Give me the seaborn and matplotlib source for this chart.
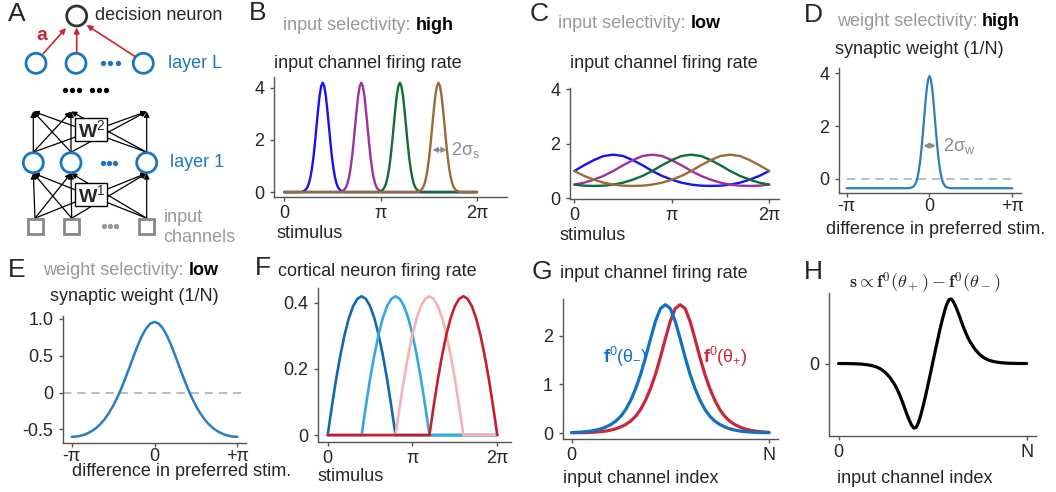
import numpy as np
import matplotlib
matplotlib.use('Agg')
import matplotlib.pyplot as plt
import matplotlib.patches as mpatches
import seaborn as sns

PI = np.pi

# ---------------------------------------------------------------
# data
# ---------------------------------------------------------------

# B: high input selectivity, 4 narrow tuning curves
b_pref = [0.4 * PI, 0.8 * PI, 1.2 * PI, 1.6 * PI]
b_offset = [-0.70, -0.65, -0.60, -0.55, -0.50, -0.45, -0.40, -0.35, -0.30, -0.25,
            -0.20, -0.15, -0.10, -0.05, 0.00, 0.05, 0.10, 0.15, 0.20, 0.25,
            0.30, 0.35, 0.40, 0.45, 0.50, 0.55, 0.60, 0.65, 0.70]
b_rate = [0.0, 0.02, 0.05, 0.10, 0.18, 0.33, 0.57, 0.91, 1.36, 1.92, 2.55, 3.17, 3.71, 4.07,
          4.20, 4.07, 3.71, 3.17, 2.55, 1.92, 1.36, 0.91, 0.57, 0.33, 0.18, 0.10, 0.05, 0.02, 0.0]

# C: low input selectivity, stimulus grid in units of pi
c_stim = [0.0, 0.1, 0.2, 0.3, 0.4, 0.5, 0.6, 0.7, 0.8, 0.9, 1.0,
          1.1, 1.2, 1.3, 1.4, 1.5, 1.6, 1.7, 1.8, 1.9, 2.0]
c_blue = [1.00, 1.21, 1.40, 1.55, 1.60, 1.55, 1.40, 1.21, 1.00, 0.82, 0.68,
          0.57, 0.50, 0.46, 0.45, 0.46, 0.50, 0.57, 0.68, 0.82, 1.00]
c_purple = [0.50, 0.57, 0.68, 0.82, 1.00, 1.21, 1.40, 1.55, 1.60, 1.55, 1.40,
            1.21, 1.00, 0.82, 0.68, 0.57, 0.50, 0.46, 0.45, 0.46, 0.50]
c_green = [0.50, 0.46, 0.45, 0.46, 0.50, 0.57, 0.68, 0.82, 1.00, 1.21, 1.40,
           1.55, 1.60, 1.55, 1.40, 1.21, 1.00, 0.82, 0.68, 0.57, 0.50]
c_brown = [1.00, 0.82, 0.68, 0.57, 0.50, 0.46, 0.45, 0.46, 0.50, 0.57, 0.68,
           0.82, 1.00, 1.21, 1.40, 1.55, 1.60, 1.55, 1.40, 1.21, 1.00]

# D: high weight selectivity
d_diff = [-0.80, -0.75, -0.70, -0.65, -0.60, -0.55, -0.50, -0.45, -0.40, -0.35, -0.30,
          -0.25, -0.20, -0.15, -0.10, -0.05, 0.00, 0.05, 0.10, 0.15, 0.20, 0.25,
          0.30, 0.35, 0.40, 0.45, 0.50, 0.55, 0.60, 0.65, 0.70, 0.75, 0.80]
d_weight = [-0.35, -0.34, -0.33, -0.31, -0.28, -0.21, -0.10, 0.08, 0.34, 0.71, 1.18,
            1.74, 2.35, 2.94, 3.45, 3.78, 3.90, 3.78, 3.45, 2.94, 2.35, 1.74,
            1.18, 0.71, 0.34, 0.08, -0.10, -0.21, -0.28, -0.31, -0.33, -0.34, -0.35]
d_base = -0.35

# E: low weight selectivity, difference grid in units of pi
e_diff = [-1.00, -0.95, -0.90, -0.85, -0.80, -0.75, -0.70, -0.65, -0.60, -0.55, -0.50,
          -0.45, -0.40, -0.35, -0.30, -0.25, -0.20, -0.15, -0.10, -0.05, 0.00,
          0.05, 0.10, 0.15, 0.20, 0.25, 0.30, 0.35, 0.40, 0.45, 0.50,
          0.55, 0.60, 0.65, 0.70, 0.75, 0.80, 0.85, 0.90, 0.95, 1.00]
e_weight = [-0.600, -0.597, -0.588, -0.572, -0.548, -0.517, -0.476, -0.423, -0.357, -0.276, -0.180,
            -0.068, 0.060, 0.201, 0.350, 0.502, 0.646, 0.774, 0.873, 0.938, 0.960,
            0.938, 0.873, 0.774, 0.646, 0.502, 0.350, 0.201, 0.060, -0.068, -0.180,
            -0.276, -0.357, -0.423, -0.476, -0.517, -0.548, -0.572, -0.588, -0.597, -0.600]

# F: cortical neuron tuning (bump onsets, offsets within bump in units of pi)
f_start = [0.0, 0.4, 0.8, 1.2]
f_offset = [0.00, 0.05, 0.10, 0.15, 0.20, 0.25, 0.30, 0.35, 0.40,
            0.45, 0.50, 0.55, 0.60, 0.65, 0.70, 0.75, 0.80]
f_rate = [0.0, 0.088, 0.170, 0.242, 0.304, 0.354, 0.390, 0.412, 0.420,
          0.412, 0.390, 0.354, 0.304, 0.242, 0.170, 0.088, 0.0]

# G: population response to two stimuli (channel index / N)
g_index = [0.000, 0.025, 0.050, 0.075, 0.100, 0.125, 0.150, 0.175, 0.200, 0.225,
           0.250, 0.275, 0.300, 0.325, 0.350, 0.375, 0.400, 0.425, 0.450, 0.475,
           0.500, 0.525, 0.550, 0.575, 0.600, 0.625, 0.650, 0.675, 0.700, 0.725,
           0.750, 0.775, 0.800, 0.825, 0.850, 0.875, 0.900, 0.925, 0.950, 0.975, 1.000]
g_minus = [0.013, 0.017, 0.023, 0.032, 0.045, 0.065, 0.09, 0.13, 0.18, 0.25,
           0.35, 0.49, 0.68, 0.92, 1.21, 1.56, 1.94, 2.30, 2.56, 2.64,
           2.56, 2.30, 1.94, 1.56, 1.21, 0.92, 0.68, 0.49, 0.35, 0.25,
           0.18, 0.13, 0.09, 0.065, 0.045, 0.032, 0.023, 0.017, 0.013, 0.011, 0.010]
g_plus = [0.010, 0.010, 0.011, 0.013, 0.017, 0.023, 0.032, 0.045, 0.065, 0.09,
          0.13, 0.18, 0.25, 0.35, 0.49, 0.68, 0.92, 1.21, 1.56, 1.94,
          2.30, 2.56, 2.64, 2.56, 2.30, 1.94, 1.56, 1.21, 0.92, 0.68,
          0.49, 0.35, 0.25, 0.18, 0.13, 0.09, 0.065, 0.045, 0.032, 0.023, 0.017]

# H: discrimination signal (arbitrary units)
h_index = [0.0, 0.05, 0.1, 0.125, 0.15, 0.175, 0.2, 0.225, 0.25, 0.275,
           0.3, 0.3125, 0.325, 0.3375, 0.35, 0.3625, 0.375, 0.3875, 0.4, 0.4125,
           0.425, 0.4375, 0.45, 0.4625, 0.475, 0.4875, 0.5, 0.5125, 0.525, 0.5375,
           0.55, 0.5625, 0.575, 0.5875, 0.6, 0.6125, 0.625, 0.6375, 0.65, 0.6625,
           0.675, 0.6875, 0.7, 0.725, 0.75, 0.775, 0.8, 0.825, 0.85, 0.875,
           0.9, 0.95, 1.0]
h_signal = [0.0, -0.001, -0.005, -0.01, -0.018, -0.03, -0.05, -0.085, -0.14, -0.22,
            -0.33, -0.40, -0.48, -0.57, -0.67, -0.77, -0.86, -0.94, -0.99, -0.98,
            -0.905, -0.79, -0.65, -0.50, -0.335, -0.17, 0.0, 0.17, 0.335, 0.50,
            0.65, 0.79, 0.905, 0.98, 0.99, 0.94, 0.86, 0.77, 0.67, 0.57,
            0.48, 0.40, 0.33, 0.22, 0.14, 0.085, 0.05, 0.03, 0.018, 0.01,
            0.005, 0.001, 0.0]

# ---------------------------------------------------------------
sns.set_theme(style='ticks')
plt.rcParams['font.family'] = ['Liberation Sans', 'DejaVu Sans']
plt.rcParams['mathtext.fontset'] = 'custom'
plt.rcParams['mathtext.rm'] = 'Liberation Sans'
plt.rcParams['mathtext.it'] = 'Liberation Sans:italic'
plt.rcParams['mathtext.bf'] = 'Liberation Sans:bold'
plt.rcParams['font.size'] = 13
plt.rcParams['axes.linewidth'] = 1.0
plt.rcParams['axes.edgecolor'] = '#555555'

W, H = 1056, 492
FS = 13
GRAY = '#999999'
ANNO = '#8c8c8c'

fig = plt.figure(figsize=(W / 100, H / 100), dpi=100)
fig.patch.set_facecolor('white')

# full-figure overlay in pixel coordinates for the schematic and free text
bg = fig.add_axes([0, 0, 1, 1])
bg.set_xlim(0, W)
bg.set_ylim(H, 0)
bg.axis('off')
bg.set_facecolor('none')


def px_axes(x0, y0, x1, y1, xpad=3):
    ax = fig.add_axes([x0 / W, 1 - y1 / H, (x1 - x0) / W, (y1 - y0) / H])
    ax.set_facecolor('none')
    sns.despine(ax=ax)
    ax.tick_params(axis='both', length=3, width=1, color='#555555', labelsize=FS)
    ax.tick_params(axis='y', pad=4)
    ax.tick_params(axis='x', pad=xpad)
    ax.grid(False)
    return ax


def txt(x, y, s, **kw):
    kw.setdefault('fontsize', FS)
    kw.setdefault('va', 'center')
    kw.setdefault('ha', 'left')
    return bg.text(x, y, s, **kw)


def header(x, y, light, strong):
    t = txt(x, y, light, color=GRAY)
    bg.annotate(strong, xy=(1, 0), xycoords=t, xytext=(3.6, 0), textcoords='offset points',
                ha='left', va='bottom', fontsize=FS, fontweight='bold', color='black')


def curve(ax, xs, ys, color, lw):
    sns.lineplot(x=xs, y=ys, ax=ax, color=color, lw=lw, estimator=None, sort=False)


# ---------------- panel letters -----------------
for letter, (lx, ly) in {'A': (17, 14), 'B': (258, 12.5), 'C': (539, 14), 'D': (813, 15),
                         'E': (17, 270), 'F': (263, 268), 'G': (542, 272), 'H': (813, 272)}.items():
    txt(lx, ly, letter, fontsize=19, ha='center')

# ---------------- panel A: network schematic -----------------
blue_a = '#1a76c2'
red_a = '#c8282f'
layerL = [36, 76, 143.3]
layer1 = [33.3, 71, 146.7]
inputs = [35, 71.7, 146.7]
yL, y1, yin, ytop = 63.3, 162.7, 226, 111.5

bg.add_patch(mpatches.Circle((76.7, 16), 10, fill=False, ec='#333333', lw=2, zorder=3))
txt(95, 16, 'decision neuron')
for x in layerL:
    bg.add_patch(mpatches.Circle((x, yL), 10, fill=False, ec=blue_a, lw=2, zorder=3))
for x in layer1:
    bg.add_patch(mpatches.Circle((x, y1), 10, fill=False, ec=blue_a, lw=2, zorder=3))
for x in inputs:
    bg.add_patch(mpatches.Rectangle((x - 7.5, yin - 7.5), 15, 15, fill=False, ec='#888888',
                                    lw=2, zorder=3))

arrow_kw = dict(arrowstyle='-|>', color='black', lw=0.9, mutation_scale=8, shrinkA=0, shrinkB=0)
for xs in layer1:
    for xt in layer1:
        bg.annotate('', xy=(xt, ytop), xytext=(xs, y1 - 10.5), arrowprops=arrow_kw, zorder=1)
for xs in inputs:
    for xt in layer1:
        bg.annotate('', xy=(xt, y1 + 10.5), xytext=(xs, yin - 7.8), arrowprops=arrow_kw, zorder=1)

red_kw = dict(arrowstyle='-|>', color=red_a, lw=1.2, mutation_scale=8, shrinkA=0, shrinkB=0)
bg.annotate('', xy=(66, 28), xytext=(43.3, 53.5), arrowprops=red_kw)
bg.annotate('', xy=(76.7, 27.5), xytext=(76.7, 52.8), arrowprops=red_kw)
bg.annotate('', xy=(86.5, 25), xytext=(135, 56.5), arrowprops=red_kw)
txt(41.5, 35, 'a', color=red_a, fontweight='bold', ha='center', fontsize=14)

for (bx, by), sup in [((75, 118.3), '2'), ((75, 182.7), '1')]:
    bg.add_patch(mpatches.Rectangle((bx, by), 32.3, 23, fc='white', ec='black', lw=1, zorder=4))
    txt(bx + 16.5, by + 12, r'$\mathbf{W}^{' + sup + '}$', ha='center', fontsize=14, zorder=5)

bg.plot([102.5, 110, 117.5], [yL, yL, yL], 'o', ms=2.8, color=blue_a)
bg.plot([103, 109, 115], [y1, y1, y1], 'o', ms=2.8, color=blue_a)
bg.plot([104, 110, 116], [yin, yin, yin], 'o', ms=2.8, color='#999999')
bg.plot([65, 72, 79, 92, 99, 106], [90] * 6, 'o', ms=2.8, color='black')
txt(168.3, yL, 'layer L', color=blue_a)
txt(170, y1, 'layer 1', color=blue_a)
txt(163.3, 218, 'input', color='#999999')
txt(163.3, 238, 'channels', color='#999999')

# ---------------- panel B -----------------
b_colors = ['#1414f0', '#9c339c', '#0d6e36', '#9b6a37']
axB = px_axes(274, 77, 507, 197)
for pref, col in zip(b_pref, b_colors):
    xs = [0.0] + [pref + o for o in b_offset] + [2 * PI]
    ys = [0.0] + b_rate + [0.0]
    curve(axB, xs, ys, col, 1.7)
axB.set_xlim(-0.33, 7.26)
axB.set_ylim(-0.19, 4.42)
axB.set_xticks([0, PI, 2 * PI], ['0', 'π', '2π'])
axB.set_yticks([0, 2, 4], ['0', '2', '4'])
axB.annotate('', xy=(5.30, 1.62), xytext=(4.83, 1.62),
             arrowprops=dict(arrowstyle='<->', color=ANNO, lw=1.3, mutation_scale=7,
                             shrinkA=0, shrinkB=0))
axB.text(5.44, 1.62, r'2σ$_{\mathrm{s}}$', color=ANNO, fontsize=FS, va='center')
header(283.3, 25, 'input selectivity:', 'high')
txt(274, 63.3, 'input channel firing rate')
txt(276.7, 233.3, 'stimulus')

# ---------------- panel C -----------------
axC = px_axes(570, 88, 779, 199)
for ys, col in zip([c_blue, c_purple, c_green, c_brown], b_colors):
    curve(axC, [s * PI for s in c_stim], ys, col, 1.7)
axC.set_xlim(-0.14, 6.6)
axC.set_ylim(-0.03, 4.05)
axC.set_xticks([0, PI, 2 * PI], ['0', 'π', '2π'])
axC.set_yticks([0, 2, 4], ['0', '2', '4'])
header(558.3, 23.3, 'input selectivity:', 'low')
txt(570, 63.3, 'input channel firing rate')
txt(560, 235, 'stimulus')

# ---------------- panel D -----------------
w_blue = '#2a7dc0'
axD = px_axes(839.3, 68.3, 1021, 192.7, xpad=1)
axD.hlines(0, -PI, PI, colors='#b0b0b0', linestyles=(0, (5, 3.5)), lw=1.2)
curve(axD, [-PI] + d_diff + [PI], [d_base] + d_weight + [d_base], w_blue, 1.6)
axD.set_xlim(-3.42, 3.47)
axD.set_ylim(-0.52, 4.19)
axD.set_xticks([-PI, 0, PI], ['-π', '0', '+π'])
axD.set_yticks([0, 2, 4], ['0', '2', '4'])
axD.annotate('', xy=(0.24, 1.26), xytext=(-0.23, 1.26),
             arrowprops=dict(arrowstyle='<->', color=ANNO, lw=1.3, mutation_scale=7,
                             shrinkA=0, shrinkB=0))
axD.text(0.50, 1.26, r'2σ$_{\mathrm{w}}$', color=ANNO, fontsize=FS, va='center')
header(836.7, 21.7, 'weight selectivity:', 'high')
txt(835, 50, 'synaptic weight (1/N)')
txt(826, 229, 'difference in preferred stim.')

# ---------------- panel E -----------------
axE = px_axes(63.3, 316, 246, 442.7, xpad=1)
axE.axhline(0, color='#b0b0b0', ls=(0, (5, 3.5)), lw=1.2)
curve(axE, [d * PI for d in e_diff], e_weight, w_blue, 1.8)
axE.set_xlim(-3.46, 3.47)
axE.set_ylim(-0.68, 1.04)
axE.set_xticks([-PI, 0, PI], ['-π', '0', '+π'])
axE.set_yticks([-0.5, 0, 0.5, 1.0], ['-0.5', '0', '0.5', '1.0'])
header(43.3, 270.7, 'weight selectivity:', 'low')
txt(50, 296.7, 'synaptic weight (1/N)')
txt(71.7, 472, 'difference in preferred stim.')

# ---------------- panel F -----------------
f_colors = ['#1168b0', '#35a8e0', '#f7b2b4', '#c3202e']
axF = px_axes(317.7, 288.3, 510.7, 441.7)
for start, col in zip(f_start, f_colors):
    xs = [0.0] + [(start + o) * PI for o in f_offset] + [2 * PI]
    ys = [0.0] + f_rate + [0.0]
    curve(axF, xs, ys, col, 1.9)
axF.set_xlim(-0.37, 6.78)
axF.set_ylim(-0.02, 0.444)
axF.set_xticks([0, PI, 2 * PI], ['0', 'π', '2π'])
axF.set_yticks([0, 0.2, 0.4], ['0', '0.2', '0.4'])
txt(278, 271.7, 'cortical neuron firing rate')
txt(318, 476.7, 'stimulus')

# ---------------- panel G -----------------
g_blue = '#1470c0'
g_red = '#c8283a'
axG = px_axes(562.7, 299.3, 778.3, 439)
curve(axG, g_index, g_plus, g_red, 2.3)
curve(axG, g_index, g_minus, g_blue, 2.3)
axG.set_xlim(-0.045, 1.047)
axG.set_ylim(-0.12, 2.75)
axG.set_xticks([0, 1], ['0', 'N'])
axG.set_yticks([0, 1, 2], ['0', '1', '2'])
txt(603, 356.7, r'$\mathbf{f}^{0}(\mathrm{\theta}_{-})$', color=g_blue)
txt(703, 356.7, r'$\mathbf{f}^{0}(\mathrm{\theta}_{+})$', color=g_red)
txt(560, 273.3, 'input channel firing rate')
txt(563, 478.3, 'input channel index')

# ---------------- panel H -----------------
axH = px_axes(829.3, 293.3, 1036, 435.7)
curve(axH, h_index, h_signal, 'black', 2.3)
axH.set_xlim(-0.049, 1.05)
axH.set_ylim(-1.107, 1.077)
axH.set_xticks([0, 1], ['0', 'N'])
axH.set_yticks([0], ['0'])
txt(925, 283.3, r'$\mathbf{s} \propto \mathbf{f}^0(\theta_+) - \mathbf{f}^0(\theta_-)$',
    ha='center', math_fontfamily='cm')
txt(837, 478.3, 'input channel index')

fig.savefig('out.png', dpi=100)
